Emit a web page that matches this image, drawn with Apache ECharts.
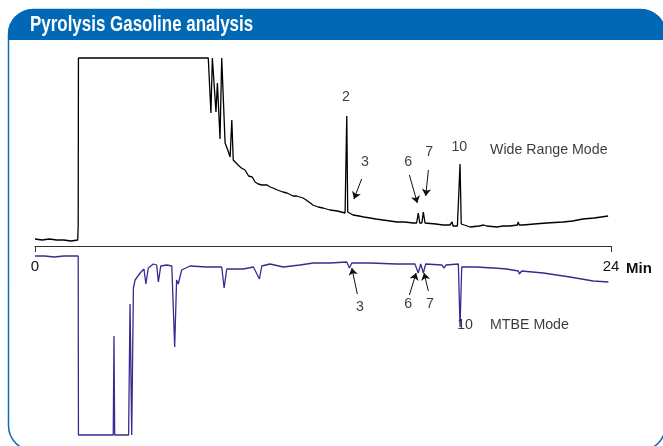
<!DOCTYPE html>
<html>
<head>
<meta charset="utf-8">
<script src="https://cdn.jsdelivr.net/npm/echarts@6/dist/echarts.min.js"></script>
<style>
  html, body { margin: 0; padding: 0; background: #ffffff; }
  #chart { width: 663px; height: 446px; }
</style>
</head>
<body>
<div id="chart"></div>
<script>
// ---- Data (retention time in minutes, detector signal in arbitrary units) ----
const titleText = 'Pyrolysis Gasoline analysis';
const axisRange = [0, 24];
const axisUnit = 'Min';

// Wide Range Mode trace (upper chromatogram)
const wideRangeTrace = [
  [0,7],[0.3,6],[0.6,7],[0.9,6],[1.2,6],[1.5,5],[1.78,6],[1.8,21],[1.81,188],[7.22,188],
  [7.33,133],[7.39,188],[7.43,188],[7.54,134],[7.6,163],[7.71,107],[7.78,188],[7.83,188],
  [7.92,103],[8.03,96],[8.13,89],[8.2,126],[8.26,86],[8.46,81],[8.6,78],[8.75,76],[8.9,70],
  [8.96,68],[9.05,69],[9.17,64],[9.3,62],[9.46,61],[9.67,61],[9.8,59],[9.92,58],[10.1,56],
  [10.33,54],[10.5,53],[10.75,50],[10.9,50],[11.17,48],[11.3,46],[11.58,41],[11.8,39],
  [12.0,38],[12.29,36],[12.6,35],[12.92,33],[12.96,34],[12.99,130],[13.03,34],[13.08,33],
  [13.25,31],[13.5,30],[13.7,29],[13.96,28],[14.2,27],[14.5,26],[14.8,25],[15.08,24],
  [15.4,24],[15.75,23],[15.9,23],[15.97,33],[16.03,23],[16.07,23],[16.12,23],[16.18,34],
  [16.25,23],[16.32,22],[16.7,22],[17.0,21],[17.29,21],[17.38,24],[17.42,20],[17.6,20],
  [17.67,21],[17.71,82],[17.76,22],[17.82,20],[18.13,19],[18.5,20],[18.7,21],[18.75,23],
  [18.82,20],[19.24,19],[19.5,20],[19.79,20],[20.1,21],[20.13,24],[20.18,21],[20.33,21],
  [20.8,22],[21.32,23],[22.0,24],[22.4,25],[22.83,27],[23.3,28],[23.88,30]
];

// MTBE Mode trace (lower, inverted chromatogram)
const mtbeTrace = [
  [0,-10],[0.4,-10],[0.8,-11],[1.2,-10],[1.6,-10],[1.8,-10],[1.81,-189],[3.26,-189],
  [3.29,-90],[3.32,-189],[3.9,-189],[3.96,-58],[4.03,-189],[4.1,-42],[4.17,-34],[4.38,-27],
  [4.54,-23],[4.62,-38],[4.72,-22],[4.93,-18],[5.07,-19],[5.14,-36],[5.24,-20],[5.49,-19],
  [5.7,-20],[5.82,-101],[5.9,-34],[5.97,-38],[6.11,-24],[6.46,-20],[7.15,-21],[7.78,-21],
  [7.88,-42],[7.99,-23],[8.68,-23],[9.1,-21],[9.35,-33],[9.45,-20],[9.79,-18],[10.35,-21],
  [11.04,-19],[11.6,-17],[12.29,-17],[12.99,-16],[13.1,-22],[13.2,-17],[13.96,-17],
  [15.07,-18],[15.83,-18],[15.97,-27],[16.07,-18],[16.18,-27],[16.28,-18],[16.95,-19],
  [17.05,-22],[17.12,-19],[17.64,-18],[17.71,-81],[17.78,-21],[18.4,-21],[19.05,-22],
  [19.1,-24],[19.15,-22],[19.65,-23],[20.14,-25],[20.18,-28],[20.28,-25],[21.18,-27],
  [22.29,-31],[23.26,-35],[23.89,-36]
];

// Peak labels: [text, time, signal]
const widePeakLabels = [
  ['2', 12.96, 149], ['3', 13.75, 84], ['6', 15.55, 84], ['7', 16.42, 94], ['10', 17.68, 99]
];
const mtbePeakLabels = [
  ['3', 13.54, -61], ['6', 15.55, -58], ['7', 16.46, -58], ['10', 17.92, -79]
];
// Mode labels: [text, time, signal] (left aligned)
const wideModeLabel = ['Wide Range Mode', 18.96, 96];
const mtbeModeLabel = ['MTBE Mode', 18.96, -79];
// Arrows: [fromTime, fromSignal, toTime, toSignal]
const wideArrows = [[13.61, 67, 13.29, 47], [15.6, 71, 15.93, 43], [16.39, 76, 16.28, 50]];
const mtbeArrows = [[13.43, -48, 13.2, -22], [15.6, -49, 15.88, -27], [16.39, -45, 16.21, -27]];

// ---- Chart ----
const chart = echarts.init(document.getElementById('chart'), null, { renderer: 'canvas' });
const textFont = 'Liberation Sans, Arial, Helvetica, sans-serif';

function labelSeries(peaks, mode, arrows, idx) {
  const data = peaks.map(p => ({ name: p[0], value: [p[1], p[2]] }));
  data.push({ name: mode[0], value: [mode[1], mode[2]], label: { align: 'left' } });
  return {
    type: 'scatter', xAxisIndex: idx, yAxisIndex: idx, data: data, symbolSize: 0,
    silent: true, z: 5,
    label: { show: true, position: 'inside', formatter: '{b}', color: '#0a0a0a',
             fontSize: 14.2, fontFamily: textFont },
    markLine: {
      silent: true, symbol: ['none', 'arrow'], symbolSize: 7,
      lineStyle: { color: '#111111', width: 1, type: 'solid' },
      itemStyle: { color: '#111111' },
      label: { show: false },
      emphasis: { disabled: true },
      data: arrows.map(a => [{ coord: [a[0], a[1]] }, { coord: [a[2], a[3]] }])
    }
  };
}

const option = {
  animation: false,
  backgroundColor: '#ffffff',
  graphic: [
    { type: 'rect', z: 0, shape: { x: 8.5, y: 9.5, width: 657, height: 441, r: 25 },
      style: { fill: '#ffffff', stroke: '#0a6cb8', lineWidth: 1.5 } },
    { type: 'rect', z: 1, shape: { x: 8, y: 9, width: 658, height: 31, r: [25, 25, 0, 0] },
      style: { fill: '#0068b4' } },
    { type: 'text', z: 2, x: 30, y: 25, scaleX: 0.77,
      style: { text: titleText, fill: '#ffffff', font: 'bold 22px ' + textFont,
               textAlign: 'left', textVerticalAlign: 'middle' } }
  ],
  grid: [
    { left: 35, width: 576, top: 57, height: 189, containLabel: false, outerBoundsMode: 'none' },
    { left: 35, width: 576, top: 246, height: 190, containLabel: false, outerBoundsMode: 'none' }
  ],
  xAxis: [
    {
      gridIndex: 0, type: 'value', min: axisRange[0], max: axisRange[1], interval: 24,
      position: 'bottom',
      axisLine: { onZero: false, lineStyle: { color: '#333333', width: 1 } },
      axisTick: { show: true, length: 6, lineStyle: { color: '#333333' } },
      axisLabel: { margin: 13, fontSize: 15, color: '#111111', fontFamily: textFont },
      splitLine: { show: false },
      name: axisUnit, nameLocation: 'end', nameGap: 15,
      nameTextStyle: { fontWeight: 'bold', fontSize: 15, color: '#111111', fontFamily: textFont,
                       align: 'left', verticalAlign: 'top', padding: [15, 0, 0, 0] }
    },
    {
      gridIndex: 1, type: 'value', min: axisRange[0], max: axisRange[1], show: false,
      axisLine: { onZero: false }, splitLine: { show: false }
    }
  ],
  yAxis: [
    { gridIndex: 0, type: 'value', min: 0, max: 189, show: false, splitLine: { show: false } },
    { gridIndex: 1, type: 'value', min: -190, max: 0, show: false, splitLine: { show: false } }
  ],
  series: [
    { name: 'Wide Range Mode', type: 'line', xAxisIndex: 0, yAxisIndex: 0, data: wideRangeTrace,
      showSymbol: false, symbol: 'none', clip: false,
      lineStyle: { color: '#000000', width: 1.3 }, z: 3 },
    { name: 'MTBE Mode', type: 'line', xAxisIndex: 1, yAxisIndex: 1, data: mtbeTrace,
      showSymbol: false, symbol: 'none', clip: false,
      lineStyle: { color: '#3b2a8e', width: 1.3 }, z: 3 },
    labelSeries(widePeakLabels, wideModeLabel, wideArrows, 0),
    labelSeries(mtbePeakLabels, mtbeModeLabel, mtbeArrows, 1)
  ]
};
chart.setOption(option);
</script>
</body>
</html>
